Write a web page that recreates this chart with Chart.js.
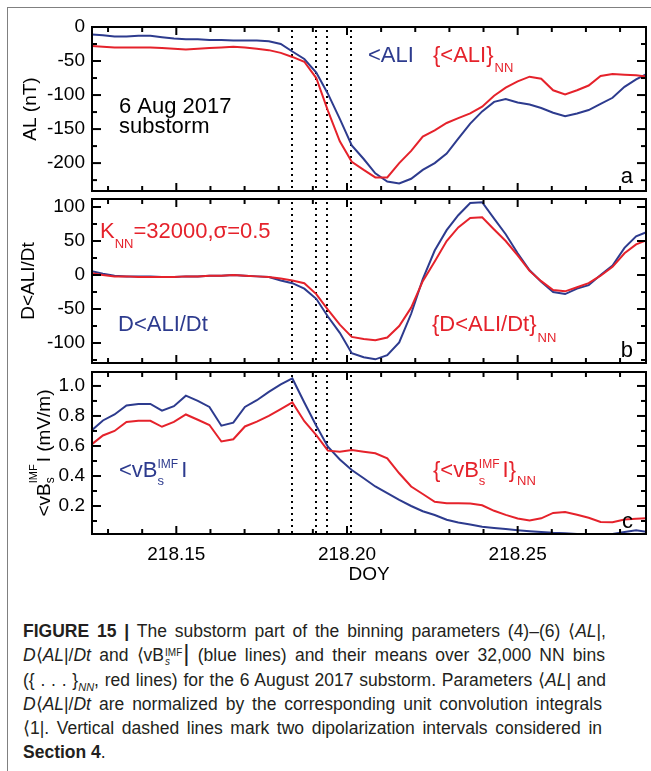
<!DOCTYPE html>
<html>
<head>
<meta charset="utf-8">
<script src="https://cdn.jsdelivr.net/npm/chart.js@4.4.0/dist/chart.umd.min.js"></script>
<style>
  body { margin: 0; background: #fff; }
  #fig { position: relative; width: 651px; height: 771px; overflow: hidden; background: #fff; }
  #frame { position: absolute; left: 7px; top: 7px; width: 700px; height: 800px;
           border-top: 1px solid #808080; border-left: 1px solid #808080; }
  canvas { position: absolute; left: 0; }
  #cap { position: absolute; left: 23px; top: 619px; width: 600px;
         font: 17.5px 'Liberation Sans', Arial, Helvetica, sans-serif; color: #231f20; }
  .ln { height: 24.3px; line-height: 24.3px; white-space: nowrap; }
  .st { display: inline-block; vertical-align: middle; line-height: 9px; font-size: 10px; margin: 0 1px; }
  .st span { display: block; }
  .bar { font-size: 24px; line-height: 10px; }
  sub { font-size: 11px; line-height: 0; }
</style>
</head>
<body>
<div id="fig">
  <div id="frame"></div>
  <canvas id="cA" width="651" height="196" style="top:0"></canvas>
  <canvas id="cB" width="651" height="172" style="top:196px"></canvas>
  <canvas id="cC" width="651" height="232" style="top:368px"></canvas>
  <div id="cap">
    <div class="ln j" data-w="583"><span><b>FIGURE 15 |</b> The substorm part of the binning parameters (4)–(6) ⟨<i>AL</i>|,</span></div>
    <div class="ln j" data-w="582"><span><i>D</i>⟨<i>AL</i>|/<i>Dt</i> and ⟨vB<span class="st"><span>IMF</span><span><i>s</i></span></span><span class="bar">|</span> (blue lines) and their means over 32,000 NN bins</span></div>
    <div class="ln j" data-w="583"><span>({ . . . }<sub><i>NN</i></sub>, red lines) for the 6 August 2017 substorm. Parameters ⟨<i>AL</i>| and</span></div>
    <div class="ln j" data-w="579"><span><i>D</i>⟨<i>AL</i>|/<i>Dt</i> are normalized by the corresponding unit convolution integrals</span></div>
    <div class="ln j" data-w="579"><span>⟨1|. Vertical dashed lines mark two dipolarization intervals considered in</span></div>
    <div class="ln"><span><b>Section 4</b>.</span></div>
  </div>
</div>
<script>
// time axis, day of year (5 minute steps from 03:00 UT)
var doy = [218.1250, 218.1285, 218.1319, 218.1354, 218.1389, 218.1424, 218.1458, 218.1493,
           218.1528, 218.1563, 218.1597, 218.1632, 218.1667, 218.1701, 218.1736, 218.1771,
           218.1806, 218.1840, 218.1875, 218.1910, 218.1944, 218.1979, 218.2014, 218.2049,
           218.2083, 218.2118, 218.2153, 218.2188, 218.2222, 218.2257, 218.2292, 218.2326,
           218.2361, 218.2396, 218.2431, 218.2465, 218.2500, 218.2535, 218.2569, 218.2604,
           218.2639, 218.2674, 218.2708, 218.2743, 218.2778, 218.2813, 218.2847, 218.2882];

// panel a: <AL| and {<AL|}NN (nT)
var alBlue = [-11, -12, -14, -14, -13, -13, -15, -17, -18, -18, -19, -19, -20, -20, -20, -21,
              -25, -36, -47, -67, -98, -135, -174, -194, -215, -227, -230, -223, -210, -200, -186, -164,
              -142, -124, -110, -106, -111, -114, -119, -126, -131, -127, -122, -113, -104, -88, -77, -68];
var alRed = [-28, -29, -30, -30, -30, -30, -31, -32, -33, -32, -31, -30, -29, -30, -32, -34,
             -38, -44, -51, -75, -123, -168, -198, -210, -221, -221, -200, -182, -161, -152, -141, -134,
             -127, -117, -101, -89, -80, -73, -76, -93, -99, -93, -86, -72, -69, -70, -71, -73];

// panel b: D<AL|/Dt and {D<AL|/Dt}NN
var dalBlue = [6, 2, -1, -2, -2, -2, -3, -3, -2, -2, -1, -1, 0, -1, -2, -3,
               -8, -12, -20, -35, -61, -85, -115, -121, -124, -118, -99, -57, -6, 36, 66, 88,
               106, 107, 83, 60, 32, 7, -10, -25, -28, -20, -15, 0, 14, 40, 57, 64];
var dalRed = [3, 0, -2, -2, -3, -3, -3, -3, -2, -2, -1, -1, 0, -1, -2, -3,
              -5, -8, -12, -28, -51, -73, -91, -94, -96, -92, -75, -48, -9, 20, 50, 70,
              84, 85, 67, 50, 29, 6, -9, -22, -24, -18, -12, -1, 12, 32, 45, 52];

// panel c: <vBs^IMF| and {<vBs^IMF|}NN (mV/m)
var vbBlue = [0.70, 0.77, 0.81, 0.87, 0.88, 0.88, 0.835, 0.865, 0.935, 0.90, 0.86, 0.735, 0.755, 0.86, 0.905, 0.96,
              1.01, 1.05, 0.89, 0.735, 0.595, 0.51, 0.44, 0.385, 0.33, 0.285, 0.24, 0.20, 0.165, 0.14, 0.108, 0.09,
              0.077, 0.062, 0.054, 0.046, 0.039, 0.032, 0.026, 0.021, 0.018, 0.014, 0.013, 0.013, 0.013, 0.027, 0.038, 0.027];
var vbRed = [0.607, 0.67, 0.70, 0.76, 0.768, 0.768, 0.728, 0.76, 0.81, 0.775, 0.74, 0.63, 0.645, 0.73, 0.762, 0.80,
             0.845, 0.89, 0.765, 0.672, 0.569, 0.562, 0.573, 0.562, 0.551, 0.518, 0.418, 0.33, 0.28, 0.228, 0.219, 0.218,
             0.216, 0.205, 0.168, 0.141, 0.117, 0.103, 0.118, 0.154, 0.16, 0.142, 0.122, 0.094, 0.091, 0.11, 0.115, 0.118];

// axis ticks
var doyTicks = [218.15, 218.20, 218.25];
var doyMinor = [218.13, 218.14, 218.16, 218.17, 218.18, 218.19, 218.21, 218.22, 218.23, 218.24, 218.26, 218.27, 218.28];
var alTicks = [0, -50, -100, -150, -200];
var alMinor = [-25, -75, -125, -175, -225];
var dalTicks = [100, 50, 0, -50, -100];
var dalMinor = [75, 25, -25, -75, -125];
var vbTicks = [1.0, 0.8, 0.6, 0.4, 0.2];
var vbMinor = [0.9, 0.7, 0.5, 0.3, 0.1];

// dipolarization interval markers
var dipolLines = [218.1840, 218.1909, 218.1942, 218.2011];

var BLUE = '#2d3b8e';
var RED = '#e5222b';
var FONT = "'Liberation Sans', Arial, Helvetica, sans-serif";
Chart.defaults.font.family = FONT;

function pts(arr) {
  return doy.map(function(x, i) { return { x: x, y: arr[i] }; });
}

// draws a run of text pieces (sub/superscripts), returns the end x
function run(ctx, x, y, parts, color, noDraw) {
  var cx = x, grp = 0;
  parts.forEach(function(p) {
    ctx.font = p.s + 'px ' + FONT;
    var w = ctx.measureText(p.t).width + (p.gap || 0);
    if (!noDraw) {
      ctx.fillStyle = color;
      ctx.fillText(p.t, cx, y + (p.dy || 0));
    }
    if (p.keep) grp = Math.max(grp, w);
    else { cx += Math.max(w, grp); grp = 0; }
  });
  return cx;
}

function yTitle(ctx, bx, cy, parts) {
  var len = run(ctx, 0, 0, parts, '#000', true);
  ctx.save();
  ctx.translate(bx, cy);
  ctx.rotate(-Math.PI / 2);
  ctx.textAlign = 'left';
  ctx.textBaseline = 'alphabetic';
  run(ctx, -len / 2, 0, parts, '#000');
  ctx.restore();
}

function deco(o) {
  return {
    id: 'deco',
    beforeDatasetsDraw: function(chart) {
      var ctx = chart.ctx, a = chart.chartArea, xs = chart.scales.x;
      ctx.save();
      ctx.strokeStyle = '#000';
      ctx.lineWidth = 2;
      ctx.setLineDash([2, 4]);
      dipolLines.forEach(function(v) {
        var px = Math.round(xs.getPixelForValue(v));
        ctx.beginPath();
        ctx.moveTo(px, a.top + 3);
        ctx.lineTo(px, a.bottom);
        ctx.stroke();
      });
      ctx.restore();
    },
    afterDatasetsDraw: function(chart) {
      var ctx = chart.ctx, a = chart.chartArea, xs = chart.scales.x, ys = chart.scales.y;
      ctx.save();
      ctx.strokeStyle = '#000';
      ctx.lineWidth = 2;
      function seg(x1, y1, x2, y2) { ctx.beginPath(); ctx.moveTo(x1, y1); ctx.lineTo(x2, y2); ctx.stroke(); }
      [[doyTicks, 8], [doyMinor, 5]].forEach(function(g) {
        g[0].forEach(function(v) {
          var p = xs.getPixelForValue(v);
          seg(p, a.bottom, p, a.bottom - g[1]);
          seg(p, a.top, p, a.top + g[1]);
        });
      });
      [[o.yMaj, 9], [o.yMin, 5]].forEach(function(g) {
        g[0].forEach(function(v) {
          var p = ys.getPixelForValue(v);
          seg(a.left, p, a.left + g[1], p);
          seg(a.right, p, a.right - g[1], p);
        });
      });
      ctx.strokeRect(a.left, a.top, a.right - a.left, a.bottom - a.top);
      ctx.textBaseline = 'alphabetic';
      ctx.textAlign = 'left';
      o.draw(ctx, a);
      ctx.restore();
    }
  };
}

function makePanel(id, o) {
  return new Chart(document.getElementById(id), {
    type: 'line',
    data: {
      datasets: [
        { data: pts(o.red), borderColor: RED, borderWidth: 2, pointRadius: 0, tension: 0, fill: false },
        { data: pts(o.blue), borderColor: BLUE, borderWidth: 2, pointRadius: 0, tension: 0, fill: false }
      ]
    },
    options: {
      responsive: false,
      animation: false,
      layout: { padding: o.pad },
      plugins: { legend: { display: false }, tooltip: { enabled: false } },
      scales: {
        x: {
          type: 'linear', min: 218.1253, max: 218.2876,
          grid: { display: false, drawTicks: false }, border: { display: false },
          ticks: { display: o.xLabels, color: '#000', font: { size: 19 }, padding: 9,
                   maxRotation: 0, autoSkip: false,
                   callback: function(v) { return v.toFixed(2); } },
          afterBuildTicks: function(s) { s.ticks = doyTicks.map(function(v) { return { value: v }; }); },
          afterFit: function(s) { s.height = o.xHeight; s.paddingLeft = 0; s.paddingRight = 0; }
        },
        y: {
          min: o.yLo, max: o.yHi,
          grid: { display: false, drawTicks: false }, border: { display: false },
          ticks: { color: '#000', font: { size: 19 }, padding: 7, callback: o.fmt },
          afterBuildTicks: function(s) { s.ticks = o.yMaj.map(function(v) { return { value: v }; }); },
          afterFit: function(s) { s.width = 92; s.paddingTop = 0; s.paddingBottom = 0; }
        }
      }
    },
    plugins: [deco(o)]
  });
}

function put(ctx, t, x, y, size, color, align) {
  ctx.font = size + 'px ' + FONT;
  ctx.fillStyle = color;
  ctx.textAlign = align || 'left';
  ctx.fillText(t, x, y);
  var w = ctx.measureText(t).width;
  ctx.textAlign = 'left';
  return x + w;
}

// panel a
makePanel('cA', {
  red: alRed, blue: alBlue, yLo: -241, yHi: 0, yMaj: alTicks, yMin: alMinor,
  pad: { left: 0, right: 5, top: 27, bottom: 5 }, xHeight: 0, xLabels: false,
  fmt: function(v) { return String(v); },
  draw: function(ctx, a) {
    var L = a.left, T = a.top;
    put(ctx, '6 Aug 2017', L + 27, T + 86, 22, '#000');
    put(ctx, 'substorm', L + 27, T + 106, 22, '#000');
    put(ctx, '<ALI', L + 276, T + 35, 22, BLUE);
    var x = put(ctx, '{<ALI}', L + 341, T + 35, 22, RED);
    put(ctx, 'NN', x + 1, T + 45, 13, RED);
    put(ctx, 'a', a.right - 13, T + 156, 22, '#000', 'right');
    yTitle(ctx, L - 56, (a.top + a.bottom) / 2, [{ t: 'AL (nT)', s: 19 }]);
  }
});

// panel b
makePanel('cB', {
  red: dalRed, blue: dalBlue, yLo: -129.4, yHi: 111.8, yMaj: dalTicks, yMin: dalMinor,
  pad: { left: 0, right: 5, top: 3, bottom: 5 }, xHeight: 0, xLabels: false,
  fmt: function(v) { return String(v); },
  draw: function(ctx, a) {
    var L = a.left, T = a.top;
    run(ctx, L + 8, T + 39, [{ t: 'K', s: 22 }, { t: 'NN', s: 13, dy: 10 }, { t: '=32000,σ=0.5', s: 22 }], RED);
    put(ctx, 'D<ALI/Dt', L + 26, T + 132, 22, BLUE);
    run(ctx, L + 340, T + 132, [{ t: '{D<ALI/Dt}', s: 22, gap: 1 }, { t: 'NN', s: 13, dy: 11 }], RED);
    put(ctx, 'b', a.right - 13, T + 158, 22, '#000', 'right');
    yTitle(ctx, L - 58, (a.top + a.bottom) / 2, [{ t: 'D<ALI/Dt', s: 19 }]);
  }
});

// panel c
makePanel('cC', {
  red: vbRed, blue: vbBlue, yLo: 0.0133, yHi: 1.093, yMaj: vbTicks, yMin: vbMinor,
  pad: { left: 0, right: 5, top: 4, bottom: 0 }, xHeight: 66, xLabels: true,
  fmt: function(v) { return v.toFixed(1); },
  draw: function(ctx, a) {
    var L = a.left, T = a.top;
    run(ctx, L + 27, T + 105, [{ t: '<vB', s: 22 }, { t: 's', s: 13, dy: 8, keep: true },
      { t: 'IMF', s: 12, dy: -9, gap: 3 }, { t: 'I', s: 22 }], BLUE);
    run(ctx, L + 341, T + 105, [{ t: '{<vB', s: 22 }, { t: 's', s: 13, dy: 8, keep: true },
      { t: 'IMF', s: 12, dy: -9, gap: 3 }, { t: 'I}', s: 22, gap: 1 }, { t: 'NN', s: 13, dy: 8 }], RED);
    put(ctx, 'c', a.right - 13, T + 156, 22, '#000', 'right');
    ctx.textBaseline = 'middle';
    put(ctx, 'DOY', (a.left + a.right) / 2, a.bottom + 41, 19, '#000', 'center');
    ctx.textBaseline = 'alphabetic';
    yTitle(ctx, L - 42, (a.top + a.bottom) / 2, [{ t: '<vB', s: 19 }, { t: 's', s: 12, dy: 4, keep: true },
      { t: 'IMF', s: 11, dy: -13, gap: 2 }, { t: 'I (mV/m)', s: 19 }]);
  }
});

// stretch the caption lines to the width they have in the printed figure
document.querySelectorAll('#cap .j').forEach(function(el) {
  var inner = el.firstElementChild;
  var natural = inner.getBoundingClientRect().width;
  var spaces = (inner.textContent.match(/ /g) || []).length;
  var target = Number(el.getAttribute('data-w'));
  if (spaces) inner.style.wordSpacing = ((target - natural) / spaces) + 'px';
});
</script>
</body>
</html>
